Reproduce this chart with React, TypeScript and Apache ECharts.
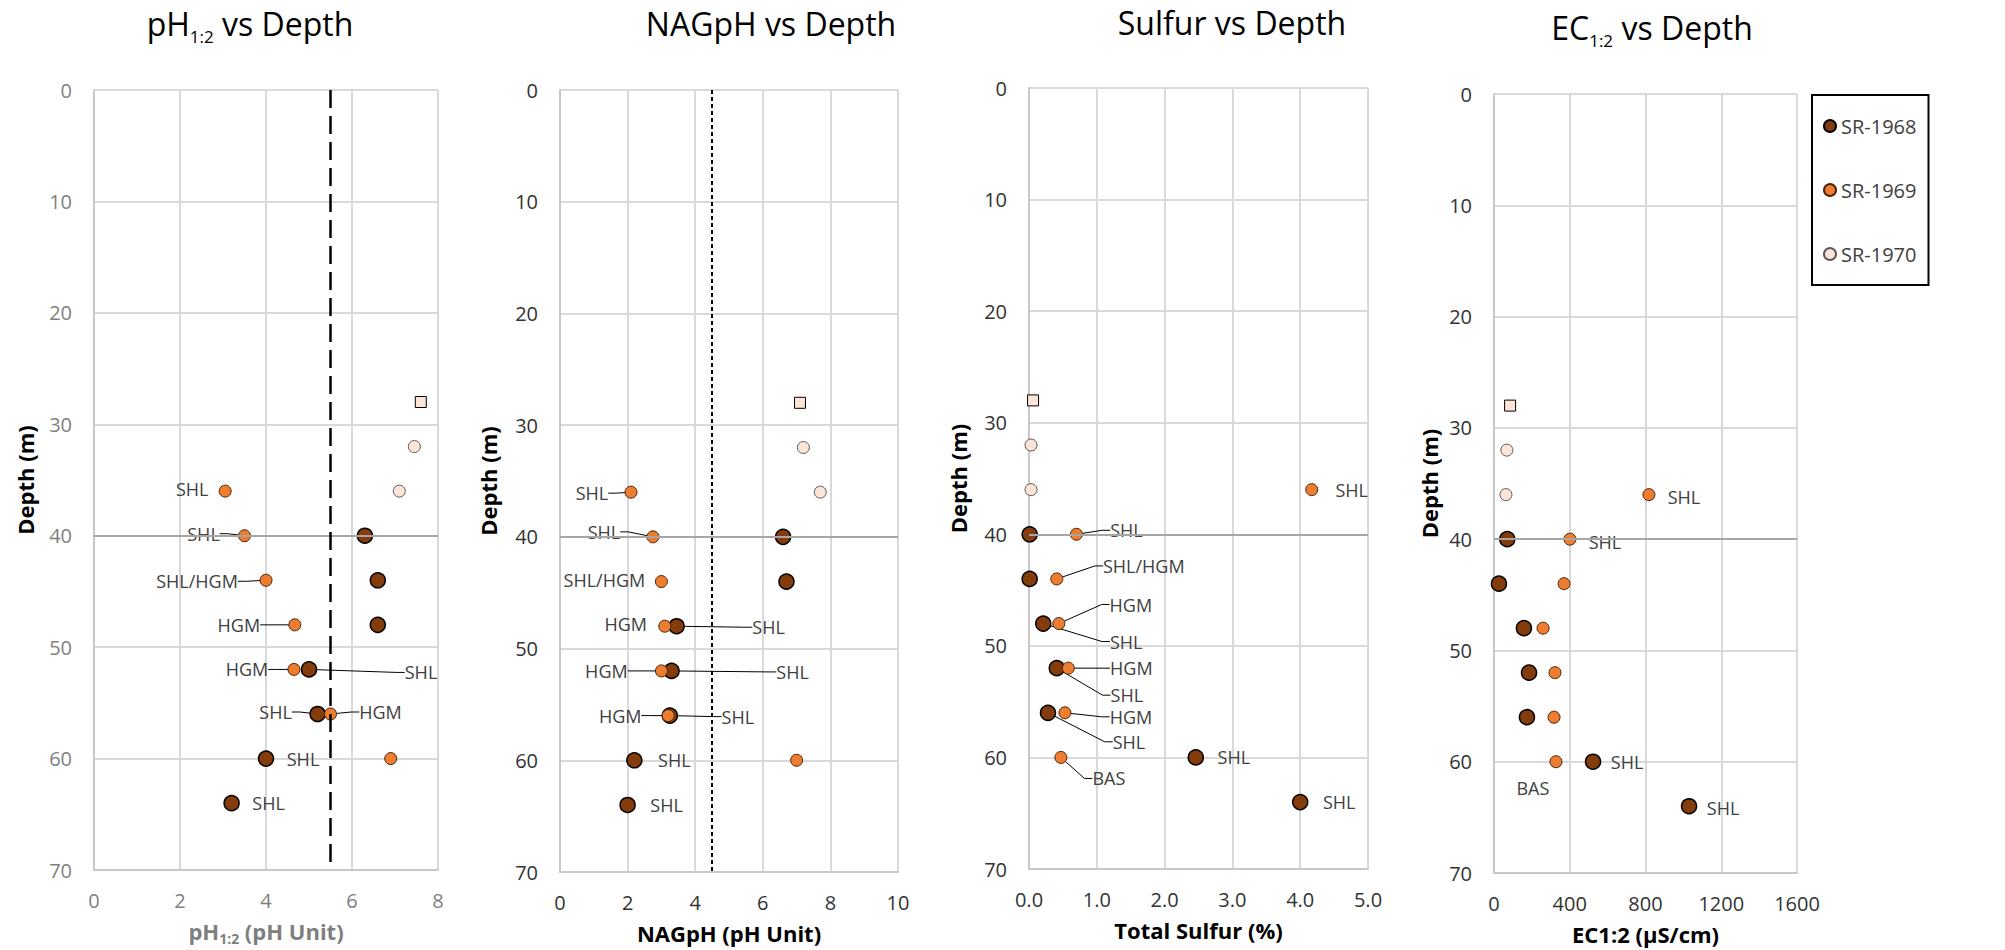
import React, { useEffect, useRef } from "react";
import * as echarts from "echarts";

const FONT = "Open Sans";

// ---------------- data ----------------
const SERIES_NAMES = ["SR-1968", "SR-1969", "SR-1970"];
const SQUARE_NAME = "SR-1970 (28 m)";

const DEPTH_1968 = [40, 44, 48, 52, 56, 60, 64];
const DEPTH_1969 = [36, 40, 44, 48, 52, 56, 60];
const DEPTH_1970 = [32, 36];
const DEPTH_1970_SQUARE = [28];

const PH_1968 = [6.3, 6.6, 6.6, 5.0, 5.2, 4.0, 3.2];
const PH_1969 = [3.05, 3.5, 4.0, 4.67, 4.65, 5.5, 6.9];
const PH_1970 = [7.45, 7.1];
const PH_1970_SQUARE = [7.6];

const NAG_1968 = [6.6, 6.7, 3.45, 3.3, 3.25, 2.2, 2.0];
const NAG_1969 = [2.1, 2.75, 3.0, 3.1, 3.0, 3.2, 7.0];
const NAG_1970 = [7.2, 7.7];
const NAG_1970_SQUARE = [7.1];

const S_1968 = [0.01, 0.01, 0.21, 0.41, 0.28, 2.46, 4.0];
const S_1969 = [4.17, 0.7, 0.41, 0.44, 0.58, 0.53, 0.47];
const S_1970 = [0.03, 0.03];
const S_1970_SQUARE = [0.06];

const EC_1968 = [70, 26, 158, 185, 174, 523, 1030];
const EC_1969 = [818, 401, 370, 259, 322, 317, 327];
const EC_1970 = [68, 63];
const EC_1970_SQUARE = [85];

const LITH_PH_1968 = ["", "", "", "SHL", "SHL", "SHL", "SHL"];
const LITH_PH_1969 = ["SHL", "SHL", "SHL/HGM", "HGM", "HGM", "HGM", ""];
const LITH_NAG_1968 = ["", "", "SHL", "SHL", "SHL", "SHL", "SHL"];
const LITH_NAG_1969 = ["SHL", "SHL", "SHL/HGM", "HGM", "HGM", "HGM", ""];
const LITH_S_1968 = ["", "", "SHL", "SHL", "SHL", "SHL", "SHL"];
const LITH_S_1969 = ["SHL", "SHL", "SHL/HGM", "HGM", "HGM", "HGM", "BAS"];
const LITH_EC_1968 = ["", "", "", "", "", "SHL", "SHL"];
const LITH_EC_1969 = ["SHL", "SHL", "", "", "", "", "BAS"];

const PH_THRESHOLD = 5.5;
const NAG_THRESHOLD = 4.5;
const MARK_DEPTH = 40;

const X_MAX = [8, 10, 5, 1600];
const X_STEP = [2, 2, 1, 400];
const DEPTH_MAX = 70;
const DEPTH_STEP = 10;

const TITLES = [
  "{m|pH}{s|1:2}{m| vs Depth}",
  "{m|NAGpH vs Depth}",
  "{m|Sulfur vs Depth}",
  "{m|EC}{s|1:2}{m| vs Depth}",
];
const X_NAMES = ["{g|pH}{gs|1:2}{g| (pH Unit)}", "NAGpH (pH Unit)", "Total Sulfur (%)", "EC1:2 (µS/cm)"];
const Y_NAME = "Depth (m)";

// ---------------- style / layout ----------------
// label offsets in px from the marker centre: [dx, dy, leaderLine]
const OFF_PH_1968 = [null, null, null, [112, 3, 1], [-42, -2, 1], [37, 0, 0], [37, 0, 0]];
const OFF_PH_1969 = [[-33, -2, 0], [-41, -2, 1], [-69, 1, 1], [-56, 0, 1], [-47, 0, 1], [50, -2, 1], null];
const OFF_NAG_1968 = [null, null, [92, 1, 1], [121, 1, 1], [68, 1, 1], [40, 0, 0], [39, 0, 0]];
const OFF_NAG_1969 = [[-39, 1, 1], [-49, -5, 1], [-57, -2, 0], [-39, -2, 0], [-55, 0, 1], [-48, 0, 1], null];
const OFF_S_1968 = [null, null, [83, 18, 1], [70, 27, 1], [81, 29, 1], [38, 0, 0], [39, 0, 0]];
const OFF_S_1969 = [[40, 0, 0], [50, -4, 1], [87, -13, 1], [72, -19, 1], [63, 0, 1], [66, 4, 1], [48, 21, 1]];
const OFF_EC_1968 = [null, null, null, null, null, [34, 0, 0], [34, 2, 0]];
const OFF_EC_1969 = [[35, 2, 0], [35, 3, 0], null, null, null, null, [-23, 26, 0]];

const LAYOUT = [
  { left: 94, top: 90, width: 344, height: 782, titleX: 250, titleTop: 7, yNameGap: 58 },
  { left: 560, top: 90, width: 338, height: 782, titleX: 771, titleTop: 7, yNameGap: 61 },
  { left: 1029, top: 88, width: 339, height: 781, titleX: 1232, titleTop: 6, yNameGap: 60 },
  { left: 1494, top: 94, width: 303, height: 779, titleX: 1652, titleTop: 11, yNameGap: 54 },
];
const TICK_COLORS = ["#7f7f7f", "#333333", "#333333", "#333333"];
const XNAME_COLORS = ["#7f7f7f", "#000000", "#000000", "#000000"];

const COL_1968 = "#843C0C";
const COL_1969 = "#ED7D31";
const COL_1970 = "#FBE5D6";

const PANELS = [
  { v68: PH_1968, v69: PH_1969, v70: PH_1970, vSq: PH_1970_SQUARE, l68: LITH_PH_1968, l69: LITH_PH_1969, o68: OFF_PH_1968, o69: OFF_PH_1969, ref: PH_THRESHOLD, refType: [18, 8], refWidth: 2.5 },
  { v68: NAG_1968, v69: NAG_1969, v70: NAG_1970, vSq: NAG_1970_SQUARE, l68: LITH_NAG_1968, l69: LITH_NAG_1969, o68: OFF_NAG_1968, o69: OFF_NAG_1969, ref: NAG_THRESHOLD, refType: [4, 3], refWidth: 2 },
  { v68: S_1968, v69: S_1969, v70: S_1970, vSq: S_1970_SQUARE, l68: LITH_S_1968, l69: LITH_S_1969, o68: OFF_S_1968, o69: OFF_S_1969, ref: null, refType: null, refWidth: 0 },
  { v68: EC_1968, v69: EC_1969, v70: EC_1970, vSq: EC_1970_SQUARE, l68: LITH_EC_1968, l69: LITH_EC_1969, o68: OFF_EC_1968, o69: OFF_EC_1969, ref: null, refType: null, refWidth: 0 },
];

function points(xs: number[], depths: number[], texts?: string[], offs?: any[]) {
  return xs.map((x, i) => {
    const item: any = { value: [x, depths[i]] };
    const t = texts ? texts[i] : "";
    if (t) {
      const o = offs && offs[i];
      item.label = { show: true, formatter: t };
      item.labelLine = { show: !!(o && o[2]) };
    }
    return item;
  });
}

function labelLayoutFor(offs: any[]) {
  return (params: any) => {
    const o = offs[params.dataIndex];
    return o ? { dx: o[0], dy: o[1] } : {};
  };
}

const LABEL_BASE = {
  show: false,
  position: "inside",
  fontFamily: FONT,
  fontSize: 18,
  lineHeight: 17,
  color: "#404040",
};
const LABEL_LINE_BASE = { show: false, length2: 8, lineStyle: { color: "#000", width: 1 } };

const X_FORMATTERS = [
  (v: number) => String(v),
  (v: number) => String(v),
  (v: number) => v.toFixed(1),
  (v: number) => String(v),
];

function buildOption() {
  const grid: any[] = [];
  const xAxis: any[] = [];
  const yAxis: any[] = [];
  const series: any[] = [];
  const title: any[] = [];

  PANELS.forEach((p, i) => {
    const L = LAYOUT[i];
    grid.push({ left: L.left, top: L.top, width: L.width, height: L.height, containLabel: false });
    title.push({
      text: TITLES[i],
      left: L.titleX,
      top: L.titleTop,
      textAlign: "center",
      padding: 0,
      textStyle: {
        fontWeight: "normal",
        fontFamily: FONT,
        rich: {
          m: { fontFamily: FONT, fontWeight: "normal", fontSize: 32, lineHeight: 32, color: "#000", verticalAlign: "top" },
          s: { fontFamily: FONT, fontWeight: "normal", fontSize: 17, lineHeight: 17, color: "#000", verticalAlign: "top", padding: [21, 0, 0, 0] },
        },
      },
    });
    xAxis.push({
      type: "value",
      gridIndex: i,
      min: 0,
      max: X_MAX[i],
      interval: X_STEP[i],
      position: "bottom",
      name: X_NAMES[i],
      nameLocation: "middle",
      nameGap: 50,
      nameTextStyle: {
        fontFamily: FONT,
        fontSize: 22,
        fontWeight: "bold",
        color: XNAME_COLORS[i],
        rich: {
          g: { fontFamily: FONT, fontSize: 22, lineHeight: 22, fontWeight: "bold", color: XNAME_COLORS[i], verticalAlign: "top" },
          gs: { fontFamily: FONT, fontSize: 14, lineHeight: 14, fontWeight: "bold", color: XNAME_COLORS[i], verticalAlign: "top", padding: [11, 0, 0, 0] },
        },
      },
      axisLine: { show: true, onZero: false, lineStyle: { color: "#c8c8c8", width: 2 } },
      axisTick: { show: false },
      axisLabel: {
        fontFamily: FONT,
        fontSize: 20,
        color: TICK_COLORS[i],
        margin: 20,
        formatter: X_FORMATTERS[i],
      },
      splitLine: { show: true, lineStyle: { color: "#d9d9d9", width: 2 } },
    });
    yAxis.push({
      type: "value",
      gridIndex: i,
      inverse: true,
      min: 0,
      max: DEPTH_MAX,
      interval: DEPTH_STEP,
      name: Y_NAME,
      nameLocation: "middle",
      nameGap: L.yNameGap,
      nameTextStyle: { fontFamily: FONT, fontSize: 22, fontWeight: "bold", color: "#000" },
      axisLine: { show: true, onZero: false, lineStyle: { color: "#c8c8c8", width: 2 } },
      axisTick: { show: false },
      axisLabel: { fontFamily: FONT, fontSize: 20, color: TICK_COLORS[i], margin: 22 },
      splitLine: { show: true, lineStyle: { color: "#d9d9d9", width: 2 } },
    });

    const markData: any[] = [
      { yAxis: MARK_DEPTH, lineStyle: { color: "#a6a6a6", width: 2, type: "solid" } },
    ];
    if (p.ref != null) {
      markData.push({ xAxis: p.ref, lineStyle: { color: "#000", width: p.refWidth, type: p.refType } });
    }
    series.push({
      type: "scatter",
      name: "ref-" + i,
      xAxisIndex: i,
      yAxisIndex: i,
      data: [],
      z: 1,
      silent: true,
      markLine: { silent: true, symbol: ["none", "none"], label: { show: false }, data: markData },
    });

    series.push({
      type: "scatter",
      name: SERIES_NAMES[0],
      xAxisIndex: i,
      yAxisIndex: i,
      z: 3,
      symbol: "circle",
      symbolSize: 15,
      itemStyle: { color: COL_1968, borderColor: "#000", borderWidth: 1.5, opacity: 1 },
      label: LABEL_BASE,
      labelLine: LABEL_LINE_BASE,
      labelLayout: labelLayoutFor(p.o68),
      data: points(p.v68, DEPTH_1968, p.l68, p.o68),
    });
    series.push({
      type: "scatter",
      name: SERIES_NAMES[1],
      xAxisIndex: i,
      yAxisIndex: i,
      z: 4,
      symbol: "circle",
      symbolSize: 12,
      itemStyle: { color: COL_1969, borderColor: "#4d2308", borderWidth: 1, opacity: 1 },
      label: LABEL_BASE,
      labelLine: LABEL_LINE_BASE,
      labelLayout: labelLayoutFor(p.o69),
      data: points(p.v69, DEPTH_1969, p.l69, p.o69),
    });
    series.push({
      type: "scatter",
      name: SERIES_NAMES[2],
      xAxisIndex: i,
      yAxisIndex: i,
      z: 4,
      symbol: "circle",
      symbolSize: 12,
      itemStyle: { color: COL_1970, borderColor: "#595959", borderWidth: 1, opacity: 1 },
      data: points(p.v70, DEPTH_1970),
    });
    series.push({
      type: "scatter",
      name: SQUARE_NAME,
      xAxisIndex: i,
      yAxisIndex: i,
      z: 4,
      symbol: "rect",
      symbolSize: 11,
      itemStyle: { color: COL_1970, borderColor: "#000", borderWidth: 1, opacity: 1 },
      data: points(p.vSq, DEPTH_1970_SQUARE),
    });
  });

  return {
    animation: false,
    backgroundColor: "#ffffff",
    textStyle: { fontFamily: FONT },
    title,
    grid,
    xAxis,
    yAxis,
    legend: {
      data: SERIES_NAMES,
      orient: "vertical",
      left: 1812,
      top: 95,
      padding: [21, 12, 21, 11],
      itemGap: 44,
      itemWidth: 12,
      itemHeight: 12,
      icon: "circle",
      borderColor: "#000",
      borderWidth: 2,
      selectedMode: false,
      textStyle: { fontFamily: FONT, fontSize: 20, color: "#404040" },
    },
    series,
  };
}

export default function App() {
  const ref = useRef<HTMLDivElement>(null);
  useEffect(() => {
    if (!ref.current) return;
    const chart = echarts.init(ref.current, null, { renderer: "svg" });
    chart.setOption(buildOption() as any);
    return () => chart.dispose();
  }, []);
  return (
    <div
      ref={ref}
      style={{ position: "absolute", left: 0, top: 0, width: 2005, height: 950, background: "#fff" }}
    />
  );
}
